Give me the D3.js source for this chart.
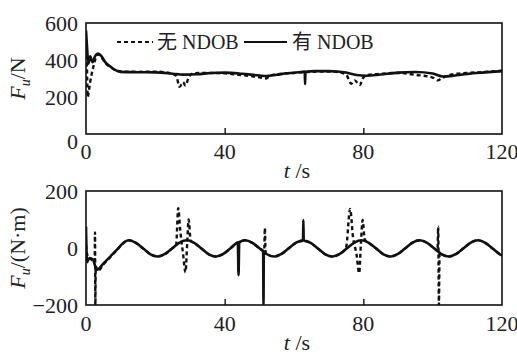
<!DOCTYPE html>
<html>
<head>
<meta charset="utf-8">
<script src="https://cdn.jsdelivr.net/npm/d3@7"></script>
<style>
  body { margin: 0; background: #fff; }
  text { font-family: "Liberation Serif", "DejaVu Serif", serif; }
  text.cjk { font-family: "Liberation Serif", "Noto Sans CJK SC", serif; }
</style>
</head>
<body>
<div id="chart"></div>
<script>
// time axis ticks (s)
var timeTicks = [0, 40, 80, 120];
var forceTicks = [0, 200, 400, 600];
var momentTicks = [-200, 0, 200];
var legendNames = ["无 NDOB", "有 NDOB"];

// top panel: force F_u (N), [t, value]
var forceNoNdob = [
  [0, 500], [0.2, 420], [0.5, 200], [0.8, 230], [1.2, 280], [1.7, 330], [2.2, 370],
  [2.8, 410], [3.5, 430], [4.5, 415], [5.5, 385], [7, 362], [8.5, 345], [10, 338],
  [15, 336], [20, 337], [24, 330], [26, 315], [27, 255], [28, 280], [28.7, 262],
  [29.5, 300], [30.5, 325], [33, 330], [36, 330], [40, 328], [44, 320], [48, 312],
  [50, 306], [52, 300], [53, 315], [56, 325], [60, 330], [64, 335], [68, 338],
  [72, 336], [75, 322], [76.5, 272], [77.5, 290], [79, 265], [79.8, 300], [81, 318],
  [85, 325], [90, 330], [95, 320], [100, 305], [101.5, 290], [102.5, 300], [105, 320],
  [110, 330], [115, 335], [120, 342]
];
var forceNdob = [
  [0, 560], [0.3, 470], [0.7, 380], [1.2, 420], [1.9, 388], [2.6, 420], [3.5, 435],
  [4.5, 420], [5.5, 390], [7, 365], [8.5, 345], [10, 336], [15, 334], [20, 333],
  [25, 326], [28, 321], [32, 323], [36, 330], [40, 332], [45, 326], [50, 316],
  [52, 313], [55, 320], [58, 328], [62, 335], [63.1, 337], [63.2, 270], [63.3, 336],
  [66, 340], [70, 340], [75, 332], [78, 319], [81, 315], [85, 322], [90, 332],
  [95, 335], [100, 327], [103, 311], [106, 315], [110, 325], [115, 333], [120, 340]
];

// bottom panel: moment (N·m), [t, value]
var momentNoNdob = [
  [0, 10], [0.5, -30], [1.5, -40], [2.5, -50], [2.6, 55], [2.7, -200], [2.8, -65],
  [3.5, -80], [5, -58], [7, -32], [9, -6], [10.5, 14], [12.3, 27], [14.4, 18],
  [16.5, -2], [18.6, -22], [20.7, -30], [22.8, -21], [24.9, -1], [26, 10], [26.6, 140],
  [27.2, 60], [28, -20], [28.7, -85], [29.2, 20], [29.6, 100], [30.2, 25], [31.2, 18],
  [33.3, -2], [35.4, -22], [37.5, -30], [39.6, -21], [41.7, -1], [43.8, 19], [45.9, 27],
  [48, 18], [50.1, -2], [51.4, -12], [51.6, 70], [51.8, -15], [52.2, -22], [54.3, -30],
  [56.4, -21], [58.5, -1], [60.6, 19], [62.7, 27], [64.8, 18], [66.9, -2], [69, -22],
  [71.1, -30], [73.2, -21], [75, 0], [76.2, 137], [77, 40], [78, -20], [78.8, -88],
  [79.3, 15], [79.8, 98], [80.4, 30], [81.6, 18], [83.7, -2], [85.8, -22], [87.9, -30],
  [90, -21], [92.1, -1], [94.2, 19], [96.3, 27], [98.4, 18], [100.5, -2], [101.4, -10],
  [101.6, 75], [101.8, -200], [102, -18], [102.6, -22], [104.7, -30], [106.8, -21],
  [108.9, -1], [111, 19], [113.1, 27], [115.2, 18], [117.3, -2], [119.4, -22], [120, -26]
];
var momentNdob = [
  [0, 75], [0.3, -50], [1, -35], [2, -40], [3.1, -77], [5, -55], [7, -30], [9, -5],
  [10.5, 15], [12.3, 27], [14.4, 18], [16.5, -2], [18.6, -22], [20.7, -30], [22.8, -21],
  [24.9, -1], [27, 19], [29.1, 27], [31.2, 18], [33.3, -2], [35.4, -22], [37.5, -30],
  [39.6, -21], [41.7, -1], [43.8, 19], [44, -95], [44.2, 20], [45.9, 27], [48, 18],
  [50.1, -2], [51.1, -11], [51.2, -200], [51.3, -13], [52.2, -22], [54.3, -30],
  [56.4, -21], [58.5, -1], [60.6, 19], [62.6, 27], [62.7, 98], [62.8, 27], [64.8, 18],
  [66.9, -2], [69, -22], [71.1, -30], [73.2, -21], [75.3, -1], [77.4, 19], [79.5, 27],
  [81.6, 18], [83.7, -2], [85.8, -22], [87.9, -30], [90, -21], [92.1, -1], [94.2, 19],
  [96.3, 27], [98.4, 18], [100.5, -2], [102.6, -22], [104.7, -30], [106.8, -21],
  [108.9, -1], [111, 19], [113.1, 27], [115.2, 18], [117.3, -2], [119.4, -22], [120, -26]
];

var width = 517, height = 356;
var plotLeft = 86, plotRight = 502;

var svg = d3.select("#chart").append("svg")
    .attr("width", width)
    .attr("height", height);

var x = d3.scaleLinear().domain([0, 120]).range([plotLeft, plotRight]);

function drawPanel(id, yScale, yTicks, series, yLabel, titleY, tickLabelY) {
  var top = yScale.range()[1], bottom = yScale.range()[0];

  svg.append("clipPath").attr("id", id)
    .append("rect")
      .attr("x", plotLeft).attr("y", top)
      .attr("width", plotRight - plotLeft).attr("height", bottom - top);

  var line = d3.line()
      .x(function(d) { return x(d[0]); })
      .y(function(d) { return yScale(d[1]); })
      .curve(d3.curveMonotoneX);

  var g = svg.append("g").attr("clip-path", "url(#" + id + ")");
  g.append("path")
      .attr("d", line(series[0]))
      .attr("fill", "none")
      .attr("stroke", "#111")
      .attr("stroke-width", 2.4)
      .attr("stroke-dasharray", "4,3");
  g.append("path")
      .attr("d", line(series[1]))
      .attr("fill", "none")
      .attr("stroke", "#111")
      .attr("stroke-width", 2.6);

  // frame
  svg.append("rect")
      .attr("x", plotLeft).attr("y", top)
      .attr("width", plotRight - plotLeft).attr("height", bottom - top)
      .attr("fill", "none")
      .attr("stroke", "#111")
      .attr("stroke-width", 1.6);

  // x axis: inner ticks, labels below
  var xAxis = svg.append("g")
      .attr("transform", "translate(0," + bottom + ")")
      .call(d3.axisTop(x).tickValues(timeTicks.slice(1, -1)).tickSize(6).tickFormat(""));
  xAxis.select(".domain").remove();
  xAxis.selectAll("line").attr("stroke", "#111").attr("stroke-width", 1.4);

  svg.selectAll(null).data(timeTicks).enter().append("text")
      .attr("x", function(d) { return x(d); })
      .attr("y", tickLabelY)
      .attr("text-anchor", "middle")
      .attr("dominant-baseline", "central")
      .attr("font-size", 22)
      .attr("fill", "#222")
      .text(function(d) { return d; });

  // y axis labels
  svg.selectAll(null).data(yTicks).enter().append("text")
      .attr("x", plotLeft - 8)
      .attr("y", function(d) { return yScale(d) + (d === 0 && id === "clipTop" ? 7 : 0); })
      .attr("text-anchor", "end")
      .attr("dominant-baseline", "central")
      .attr("font-size", 22)
      .attr("fill", "#222")
      .text(function(d) { return d < 0 ? "\u2212" + (-d) : d; });

  // y title (rotated)
  var yt = svg.append("text")
      .attr("transform", "translate(25," + ((top + bottom) / 2) + ") rotate(-90)")
      .attr("text-anchor", "middle")
      .attr("font-size", 22)
      .attr("fill", "#222");
  yt.append("tspan").attr("font-style", "italic").text("F");
  yt.append("tspan").attr("font-style", "italic").attr("font-size", 14).attr("dy", 5).text("u");
  yt.append("tspan").attr("dy", -5).text("/" + yLabel);

  // x title
  var xt = svg.append("text")
      .attr("x", 297)
      .attr("y", titleY)
      .attr("text-anchor", "middle")
      .attr("dominant-baseline", "central")
      .attr("font-size", 22)
      .attr("fill", "#222");
  xt.append("tspan").attr("font-style", "italic").text("t");
  xt.append("tspan").text(" /s");
}

var yForce = d3.scaleLinear().domain([0, 600]).range([134, 23]);
var yMoment = d3.scaleLinear().domain([-200, 200]).range([305, 191]);

drawPanel("clipTop", yForce, forceTicks, [forceNoNdob, forceNdob], "N", 170, 151);
drawPanel("clipBottom", yMoment, momentTicks, [momentNoNdob, momentNdob], "(N\u00b7m)", 342, 323);

// legend
var legend = svg.append("g");
var legendItems = [
  { x0: 117, x1: 153, tx: 157, dash: "4,3" },
  { x0: 244, x1: 287, tx: 292, dash: null }
];
legendItems.forEach(function(d, i) {
  legend.append("line")
      .attr("x1", d.x0).attr("x2", d.x1)
      .attr("y1", 42).attr("y2", 42)
      .attr("stroke", "#111")
      .attr("stroke-width", 2)
      .attr("stroke-dasharray", d.dash);
  legend.append("text")
      .attr("class", "cjk")
      .attr("x", d.tx).attr("y", 42)
      .attr("dominant-baseline", "central")
      .attr("font-size", 20)
      .attr("fill", "#222")
      .text(legendNames[i]);
});
</script>
</body>
</html>
